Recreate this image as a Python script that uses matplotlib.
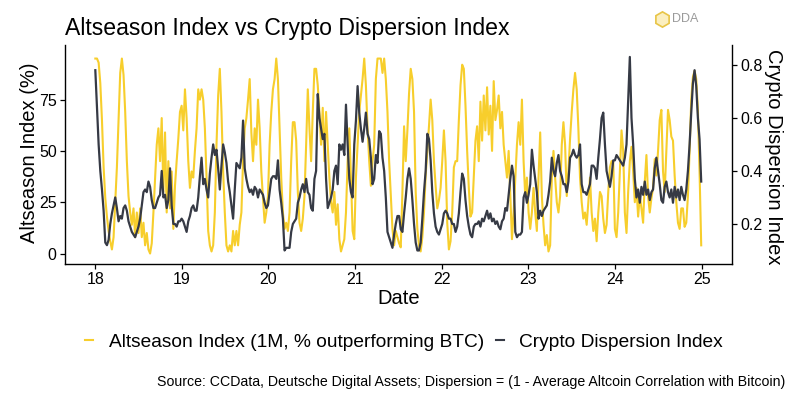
import numpy as np
import pandas as pd
import matplotlib
matplotlib.use('Agg')
import matplotlib.pyplot as plt
import matplotlib.dates as mdates
from matplotlib.lines import Line2D

# weekly observations, 2018-01-01 .. 2024-12-30
dates = pd.date_range('2018-01-01', periods=366, freq='7D')

altseason = [
    95, 95, 93, 83, 65, 42, 27, 18, 11, 6,
    2, 8, 25, 42, 65, 88, 95, 87, 69, 45,
    28, 20, 14, 22, 8, 20, 10, 22, 8, 15,
    4, 10, 2, 0, 5, 20, 37, 53, 61, 45,
    66, 30, 59, 20, 45, 22, 40, 12, 33, 45,
    56, 69, 72, 60, 80, 66, 45, 32, 40, 37,
    50, 61, 80, 75, 80, 75, 61, 37, 11, 4,
    1, 4, 20, 53, 77, 90, 69, 40, 20, 4,
    1, 4, 1, 11, 4, 11, 4, 14, 20, 45,
    61, 66, 75, 85, 59, 45, 61, 53, 75, 61,
    40, 27, 15, 20, 28, 53, 69, 80, 85, 95,
    85, 61, 37, 20, 12, 15, 11, 20, 45, 64,
    64, 55, 30, 15, 11, 17, 28, 53, 80, 61,
    45, 69, 90, 90, 82, 69, 53, 71, 45, 69,
    53, 37, 25, 20, 30, 14, 24, 7, 1, 4,
    7, 20, 45, 61, 37, 11, 7, 37, 53, 69,
    77, 85, 95, 82, 61, 45, 33, 45, 53, 85,
    95, 95, 95, 88, 95, 85, 69, 45, 28, 12,
    4, 11, 8, 5, 3, 30, 62, 45, 60, 78,
    90, 85, 69, 30, 12, 4, 1, 8, 20, 38,
    50, 62, 75, 65, 45, 33, 22, 26, 32, 45,
    60, 45, 15, 2, 6, 20, 42, 45, 45, 65,
    82, 92, 90, 72, 50, 32, 18, 20, 38, 55,
    62, 45, 74, 55, 77, 60, 81, 58, 72, 50,
    84, 65, 70, 77, 61, 69, 53, 45, 37, 50,
    28, 7, 20, 37, 53, 64, 53, 75, 45, 28,
    37, 20, 12, 20, 32, 20, 11, 37, 59, 28,
    14, 4, 9, 1, 4, 37, 50, 37, 25, 20,
    28, 53, 64, 53, 28, 40, 56, 69, 80, 88,
    80, 61, 37, 25, 17, 20, 14, 25, 37, 20,
    11, 17, 6, 20, 30, 28, 17, 10, 14, 30,
    42, 45, 45, 12, 8, 20, 40, 60, 50, 20,
    10, 30, 45, 52, 40, 25, 32, 18, 28, 22,
    15, 35, 48, 28, 20, 27, 32, 46, 38, 50,
    65, 70, 40, 30, 50, 70, 65, 57, 55, 38,
    25, 15, 12, 22, 22, 13, 15, 28, 50, 75,
    86, 89, 85, 70, 40, 4,
]

dispersion = [
    0.78, 0.64, 0.50, 0.40, 0.33, 0.25, 0.13, 0.12, 0.14, 0.20,
    0.24, 0.27, 0.30, 0.26, 0.21, 0.23, 0.22, 0.26, 0.27, 0.25,
    0.21, 0.19, 0.17, 0.16, 0.15, 0.17, 0.19, 0.22, 0.27, 0.32,
    0.33, 0.32, 0.36, 0.34, 0.29, 0.26, 0.26, 0.28, 0.30, 0.31,
    0.40, 0.30, 0.31, 0.26, 0.29, 0.41, 0.27, 0.20, 0.20, 0.19,
    0.21, 0.21, 0.22, 0.21, 0.19, 0.17, 0.21, 0.23, 0.26, 0.27,
    0.25, 0.25, 0.30, 0.38, 0.45, 0.35, 0.37, 0.33, 0.30, 0.39,
    0.45, 0.50, 0.46, 0.48, 0.41, 0.33, 0.42, 0.50, 0.47, 0.43,
    0.36, 0.32, 0.27, 0.22, 0.33, 0.43, 0.42, 0.41, 0.45, 0.59,
    0.41, 0.37, 0.34, 0.32, 0.33, 0.31, 0.34, 0.33, 0.30, 0.33,
    0.32, 0.31, 0.28, 0.26, 0.27, 0.32, 0.37, 0.38, 0.38, 0.37,
    0.44, 0.33, 0.28, 0.22, 0.10, 0.11, 0.11, 0.11, 0.17, 0.20,
    0.21, 0.22, 0.28, 0.30, 0.33, 0.35, 0.32, 0.37, 0.32, 0.31,
    0.26, 0.25, 0.37, 0.40, 0.69, 0.60, 0.56, 0.52, 0.54, 0.37,
    0.26, 0.28, 0.30, 0.33, 0.40, 0.42, 0.35, 0.50, 0.48, 0.50,
    0.46, 0.65, 0.50, 0.37, 0.32, 0.30, 0.50, 0.59, 0.72, 0.62,
    0.56, 0.51, 0.56, 0.62, 0.54, 0.52, 0.45, 0.35, 0.37, 0.46,
    0.43, 0.55, 0.54, 0.45, 0.40, 0.30, 0.17, 0.15, 0.13, 0.11,
    0.16, 0.20, 0.23, 0.23, 0.18, 0.17, 0.24, 0.30, 0.37, 0.41,
    0.37, 0.29, 0.20, 0.13, 0.10, 0.10, 0.13, 0.22, 0.32, 0.40,
    0.54, 0.52, 0.44, 0.32, 0.24, 0.19, 0.17, 0.16, 0.18, 0.20,
    0.24, 0.25, 0.24, 0.22, 0.22, 0.20, 0.20, 0.17, 0.19, 0.24,
    0.32, 0.39, 0.37, 0.29, 0.23, 0.19, 0.16, 0.15, 0.19, 0.20,
    0.20, 0.21, 0.19, 0.22, 0.21, 0.23, 0.25, 0.22, 0.24, 0.21,
    0.22, 0.20, 0.21, 0.19, 0.18, 0.21, 0.22, 0.26, 0.25, 0.31,
    0.37, 0.42, 0.38, 0.17, 0.15, 0.16, 0.16, 0.17, 0.30, 0.32,
    0.28, 0.31, 0.35, 0.48, 0.42, 0.37, 0.32, 0.22, 0.25, 0.23,
    0.25, 0.26, 0.27, 0.31, 0.36, 0.45, 0.40, 0.38, 0.43, 0.46,
    0.40, 0.38, 0.35, 0.35, 0.32, 0.36, 0.45, 0.46, 0.48, 0.46,
    0.45, 0.46, 0.50, 0.35, 0.32, 0.32, 0.31, 0.33, 0.35, 0.42,
    0.42, 0.41, 0.37, 0.45, 0.52, 0.60, 0.62, 0.50, 0.40, 0.37,
    0.34, 0.38, 0.44, 0.44, 0.46, 0.45, 0.44, 0.43, 0.42, 0.45,
    0.50, 0.66, 0.83, 0.60, 0.50, 0.37, 0.30, 0.33, 0.28, 0.34,
    0.31, 0.36, 0.31, 0.33, 0.29, 0.32, 0.33, 0.41, 0.45, 0.40,
    0.35, 0.29, 0.28, 0.34, 0.36, 0.32, 0.30, 0.33, 0.28, 0.34,
    0.30, 0.33, 0.29, 0.34, 0.31, 0.29, 0.33, 0.40, 0.50, 0.62,
    0.73, 0.78, 0.72, 0.60, 0.52, 0.36,
]

left_ticks = [0, 25, 50, 75]
right_ticks = [0.2, 0.4, 0.6, 0.8]

title = 'Altseason Index vs Crypto Dispersion Index'
alt_label = 'Altseason Index (1M, % outperforming BTC)'
disp_label = 'Crypto Dispersion Index'
caption = 'Source: CCData, Deutsche Digital Assets; Dispersion = (1 - Average Altcoin Correlation with Bitcoin)'

plt.rcParams['font.family'] = ['Liberation Sans', 'DejaVu Sans']

YELLOW = '#F7CE2C'
DARK = '#363A45'

fig = plt.figure(figsize=(8, 4), dpi=100)
fig.patch.set_facecolor('white')
ax = fig.add_axes([65 / 800, 1 - 264 / 400, (732 - 65) / 800, (264 - 45) / 400])
ax2 = ax.twinx()

ax.plot(dates, altseason, color=YELLOW, lw=1.5)
ax2.plot(dates, dispersion, color=DARK, lw=1.6)

x0 = mdates.date2num(dates[0])
x1 = mdates.date2num(pd.Timestamp('2025-01-01'))
span = x1 - x0
ax.set_xlim(x0 - 0.05 * span, x1 + 0.05 * span)
ax.set_ylim(-5.1, 101.6)
ax2.set_ylim(0.049, 0.875)
ax.set_yticks(left_ticks)
ax2.set_yticks(right_ticks)
ax.xaxis.set_major_locator(mdates.YearLocator())
ax.xaxis.set_major_formatter(mdates.DateFormatter('%y'))

for a in (ax, ax2):
    for s in a.spines.values():
        s.set_visible(False)
        s.set_linewidth(1.0)
        s.set_color('black')
ax.spines['left'].set_visible(True)
ax.spines['bottom'].set_visible(True)
ax2.spines['right'].set_visible(True)

ax.tick_params(axis='both', direction='out', length=3.5, width=0.9, labelsize=11.5, colors='black', pad=2.5)
ax2.tick_params(axis='y', direction='out', length=3.5, width=0.9, labelsize=11.5, colors='black', pad=2.5)

fig.text(30 / 800, 1 - 153 / 400, 'Altseason Index (%)', rotation=90, ha='center', va='center', fontsize=14.5)
fig.text(773 / 800, 1 - 157 / 400, 'Crypto Dispersion Index', rotation=270, ha='center', va='center', fontsize=14.5)
fig.text(399 / 800, 1 - 298 / 400, 'Date', ha='center', va='center', fontsize=14.5)
fig.text(65 / 800, 1 - 29 / 400, title, ha='left', va='center', fontsize=16.6)
fig.text(785 / 800, 1 - 382 / 400, caption, ha='right', va='center', fontsize=10.2)

# logo
fig.add_artist(Line2D([662 / 800], [1 - 19 / 400], marker='h', markersize=11, markerfacecolor='#FBEFC0',
                      markeredgecolor='#E8C547', markeredgewidth=1.2, transform=fig.transFigure))
fig.text(672 / 800, 1 - 19 / 400, 'DDA', ha='left', va='center', fontsize=9, color='#9A9A9A')

handles = [Line2D([], [], color=YELLOW, lw=1.5), Line2D([], [], color=DARK, lw=1.5)]
fig.legend(handles, [alt_label, disp_label], loc='center', bbox_to_anchor=(404 / 800, 1 - 342 / 400), ncol=2,
           frameon=False, fontsize=13.8, handlelength=0.45, handletextpad=0.8, columnspacing=0.6)

fig.savefig('out.png', dpi=100, facecolor='white')
